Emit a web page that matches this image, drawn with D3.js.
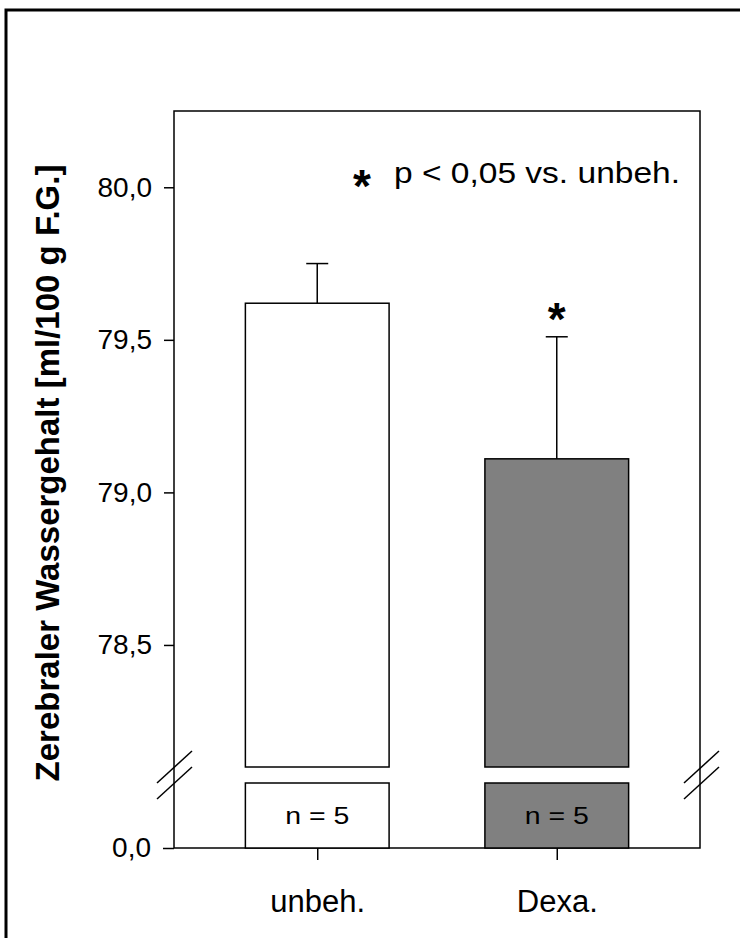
<!DOCTYPE html>
<html>
<head>
<meta charset="utf-8">
<script src="https://cdn.jsdelivr.net/npm/d3@7"></script>
<style>
body { margin: 0; background: #fff; }
svg { display: block; font-family: "Liberation Sans", Arial, sans-serif; }
</style>
</head>
<body>
<div id="chart"></div>
<script>
var width = 740
var height = 938

// data
var groups = ["unbeh.", "Dexa."]
var means = [79.62, 79.11]
var errs = [0.13, 0.40]
var nCounts = [5, 5]
var fills = ["#ffffff", "#808080"]
var signif = [false, true]
var yTicks = [80.0, 79.5, 79.0, 78.5]
var lowTicks = [0.0]

var box = {left: 174, right: 700, top: 111, bottom: 848}
var breakTop = 767, breakBottom = 783

var fmt = function(v){ return d3.format(".1f")(v).replace(".", ",") }

var svg = d3.select("#chart").append("svg")
    .attr("width", width)
    .attr("height", height)

// outer frame (only top + left show)
svg.append("path")
    .attr("d", "M6,938 V10 H740")
    .attr("fill", "none")
    .attr("stroke", "#000")
    .attr("stroke-width", 3)

var x = d3.scalePoint().domain(groups).range([box.left, box.right]).padding(0.598)
var barW = x.step() * 0.6

var y = d3.scaleLinear().domain([78.1, 80.25]).range([breakTop, box.top])
var yLow = d3.scaleLinear().domain([0, 0.2]).range([box.bottom, breakBottom])

var rows = groups.map(function(g, i){
    return {name: g, mean: means[i], err: errs[i], n: nCounts[i], fill: fills[i], sig: signif[i]}
})

// plot box
svg.append("rect")
    .attr("x", box.left).attr("y", box.top)
    .attr("width", box.right - box.left).attr("height", box.bottom - box.top)
    .attr("fill", "none").attr("stroke", "#000").attr("stroke-width", 1.5)

// error bars
var eb = svg.selectAll(".eb").data(rows).enter().append("g").attr("class", "eb")
eb.append("line")
    .attr("x1", function(d){ return x(d.name) }).attr("x2", function(d){ return x(d.name) })
    .attr("y1", function(d){ return y(d.mean) }).attr("y2", function(d){ return y(d.mean + d.err) })
    .attr("stroke", "#000").attr("stroke-width", 1.5)
eb.append("line")
    .attr("x1", function(d){ return x(d.name) - 11 }).attr("x2", function(d){ return x(d.name) + 11 })
    .attr("y1", function(d){ return y(d.mean + d.err) }).attr("y2", function(d){ return y(d.mean + d.err) })
    .attr("stroke", "#000").attr("stroke-width", 1.5)

// upper bars
svg.selectAll(".bar").data(rows).enter().append("rect")
    .attr("class", "bar")
    .attr("x", function(d){ return x(d.name) - barW/2 })
    .attr("y", function(d){ return y(d.mean) })
    .attr("width", barW)
    .attr("height", function(d){ return y.range()[0] - y(d.mean) })
    .attr("fill", function(d){ return d.fill })
    .attr("stroke", "#000").attr("stroke-width", 1.5)

// lower bars (below the break)
svg.selectAll(".lowbar").data(rows).enter().append("rect")
    .attr("class", "lowbar")
    .attr("x", function(d){ return x(d.name) - barW/2 })
    .attr("y", yLow(0.2))
    .attr("width", barW)
    .attr("height", yLow(0) - yLow(0.2))
    .attr("fill", function(d){ return d.fill })
    .attr("stroke", "#000").attr("stroke-width", 1.5)

svg.selectAll(".nlab").data(rows).enter().append("text")
    .attr("x", function(d){ return x(d.name) })
    .attr("y", 824)
    .attr("text-anchor", "middle")
    .attr("font-size", 24)
    .attr("textLength", 64).attr("lengthAdjust", "spacingAndGlyphs")
    .text(function(d){ return "n = " + d.n })

// significance star
svg.selectAll(".star").data(rows.filter(function(d){ return d.sig })).enter().append("text")
    .attr("x", function(d){ return x(d.name) })
    .attr("y", function(d){ return y(d.mean + d.err) - 2 })
    .attr("text-anchor", "middle")
    .attr("font-size", 46)
    .attr("font-weight", "bold")
    .text("*")

// y axis upper
var yAxis = d3.axisLeft(y).tickValues(yTicks).tickFormat(fmt).tickSize(10).tickPadding(12)
var ga = svg.append("g").attr("transform", "translate(" + box.left + ",0)").call(yAxis)
var yAxisLow = d3.axisLeft(yLow).tickValues(lowTicks).tickFormat(fmt).tickSize(11).tickPadding(12)
var gb = svg.append("g").attr("transform", "translate(" + box.left + ",0)").call(yAxisLow)
;[ga, gb].forEach(function(g){
    g.select(".domain").remove()
    g.selectAll("line").attr("stroke-width", 1.5)
    g.selectAll("text").attr("font-size", 28).attr("font-family", "Liberation Sans, Arial, sans-serif").attr("fill", "#000")
})

// x axis
var xAxis = d3.axisBottom(x).tickSize(12).tickPadding(30)
var gx = svg.append("g").attr("transform", "translate(0," + box.bottom + ")").call(xAxis)
gx.select(".domain").remove()
gx.selectAll("line").attr("stroke-width", 1.5)
gx.selectAll("text").attr("font-size", 31).attr("font-family", "Liberation Sans, Arial, sans-serif").attr("fill", "#000")

// axis break marks
var brk = [[box.left - 17, 0], [box.left - 17, 16], [box.right - 16, 0], [box.right - 16, 16]]
svg.selectAll(".brk").data(brk).enter().append("line")
    .attr("x1", function(d){ return d[0] }).attr("y1", function(d){ return breakBottom + d[1] })
    .attr("x2", function(d){ return d[0] + 35 }).attr("y2", function(d){ return breakBottom + d[1] - 32 })
    .attr("stroke", "#000").attr("stroke-width", 1.5)

// legend
svg.append("text")
    .attr("x", 362).attr("y", 202)
    .attr("text-anchor", "middle")
    .attr("font-size", 46).attr("font-weight", "bold")
    .text("*")
svg.append("text")
    .attr("x", 394).attr("y", 183)
    .attr("font-size", 30)
    .attr("textLength", 286).attr("lengthAdjust", "spacingAndGlyphs")
    .text("p < 0,05 vs. unbeh.")

// y title
svg.append("text")
    .attr("transform", "translate(59," + (box.top + 362) + ") rotate(-90)")
    .attr("text-anchor", "middle")
    .attr("font-size", 33)
    .attr("font-weight", "bold")
    .text("Zerebraler Wassergehalt [ml/100 g F.G.]")
</script>
</body>
</html>
